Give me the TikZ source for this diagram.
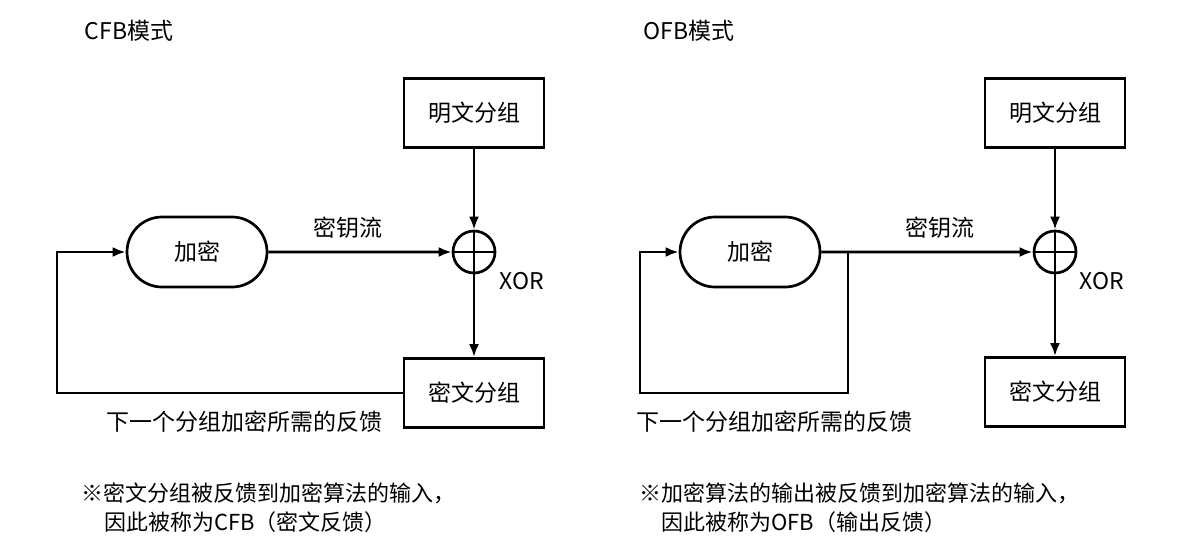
\documentclass[tikz,border=0pt]{standalone}
\usepackage{fontspec}
\setmainfont{Noto Sans CJK SC}
\usetikzlibrary{arrows.meta,shapes.misc}
\begin{document}
\begin{tikzpicture}[x=1pt,y=-1pt,
  font=\fontsize{23}{26}\selectfont,
  line width=2.7pt,
  box/.style={draw, minimum width=140pt, minimum height=69pt, inner sep=0pt},
  enc/.style={draw, rounded rectangle, minimum width=140pt, minimum height=70pt, inner sep=0pt},
  xorc/.style={draw, circle, minimum size=42pt, inner sep=0pt},
  arr/.style={-{Latex[length=13pt,width=10pt]}},
  lbl/.style={inner sep=0pt},
  note/.style={inner sep=0pt, anchor=west, font=\fontsize{22}{26}\selectfont},
  ]
\useasboundingbox (0,0) rectangle (1204,552);
% ---------- CFB ----------
\node[lbl] (t1) at (129,31) {CFB模式};
\node[box] (p1) at (474,113) {明文分组};
\node[enc] (e1) at (197,252) {加密};
\node[xorc] (x1) at (474,252) {};
\draw (x1.north) -- (x1.south) (x1.west) -- (x1.east);
\node[box] (c1) at (474,393) {密文分组};
\node[lbl] (k1) at (348,228) {密钥流};
\node[lbl] (xl1) at (522,281) {XOR};
\coordinate (fb1) at (57,252);
\draw[arr] (p1) -- (x1);
\draw[arr] (e1) -- (x1);
\draw[arr] (x1) -- (c1);
\draw[arr] (c1.west) -| (fb1) -- (e1.west);
\node[lbl] (fl1) at (244,422) {下一个分组加密所需的反馈};
\node[note] (n1a) at (80,493) {※密文分组被反馈到加密算法的输入，};
\node[note] (n1b) at (103,522) {因此被称为CFB（密文反馈）};
% ---------- OFB ----------
\node[lbl] (t2) at (689,31) {OFB模式};
\node[box] (p2) at (1055,113) {明文分组};
\node[enc] (e2) at (750,252) {加密};
\node[xorc] (x2) at (1055,252) {};
\draw (x2.north) -- (x2.south) (x2.west) -- (x2.east);
\node[box] (c2) at (1055,392) {密文分组};
\node[lbl] (k2) at (940,228) {密钥流};
\node[lbl] (xl2) at (1102,281) {XOR};
\coordinate (tap2) at (848,252);
\coordinate (fb2) at (640,393);
\draw[arr] (p2) -- (x2);
\draw[arr] (e2) -- (x2);
\draw[arr] (x2) -- (c2);
\draw[arr] (tap2) |- (fb2) |- (e2.west);
\node[lbl] (fl2) at (774,422) {下一个分组加密所需的反馈};
\node[note] (n2a) at (638,493) {※加密算法的输出被反馈到加密算法的输入，};
\node[note] (n2b) at (660,522) {因此被称为OFB（输出反馈）};
\end{tikzpicture}
\end{document}
